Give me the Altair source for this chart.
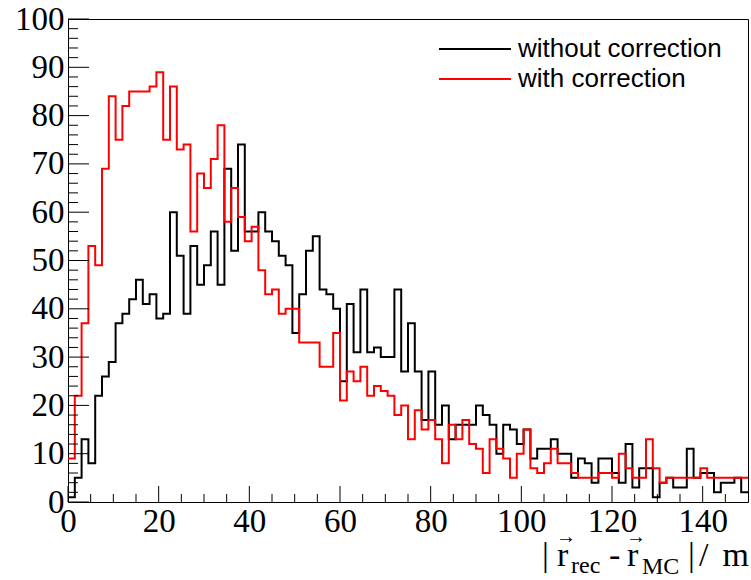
import altair as alt
import pandas as pd

# ---- data ----
bin_width = 1.5
n_bins = 100
series_names = ["without correction", "with correction"]
series_colors = ["#000000", "#ff0000"]

without_corr = [1, 5, 13, 8, 22, 26, 29, 37, 39, 42,
                46, 41, 43, 38, 39, 60, 51, 39, 53, 45,
                49, 56, 45, 69, 52, 74, 56, 56, 60, 56,
                54, 51, 49, 35, 43, 52, 55, 44, 43, 40,
                25, 41, 31, 44, 31, 32, 30, 30, 44, 27,
                37, 27, 17, 27, 16, 20, 13, 16, 16, 16,
                20, 18, 16, 10, 16, 15, 12, 15, 9, 11,
                11, 13, 10, 10, 5, 9, 8, 4, 9, 9,
                6, 4, 12, 3, 7, 7, 1, 4, 5, 3,
                3, 11, 5, 6, 6, 2, 4, 4, 5, 2]

with_corr = [9, 22, 37, 53, 49, 69, 84, 75, 82, 85,
             85, 85, 86, 89, 75, 86, 73, 74, 56, 68,
             65, 71, 78, 58, 65, 59, 54, 57, 48, 43,
             44, 39, 40, 40, 33, 33, 33, 28, 28, 35,
             21, 27, 25, 28, 22, 24, 23, 22, 18, 20,
             13, 19, 15, 17, 13, 8, 16, 13, 17, 12,
             11, 6, 13, 11, 9, 5, 10, 15, 7, 6,
             8, 11, 8, 8, 6, 5, 5, 5, 6, 6,
             5, 10, 7, 5, 5, 13, 7, 4, 5, 5,
             5, 5, 5, 7, 5, 5, 5, 5, 5, 5]

x_major = [0, 20, 40, 60, 80, 100, 120, 140]
x_minor = [v for v in range(5, 150, 5) if v % 20 != 0]
y_major = [0, 10, 20, 30, 40, 50, 60, 70, 80, 90, 100]
y_minor = [v for v in range(2, 100, 2) if v % 10 != 0]

# ---- build step tables ----
def step_table(name, vals):
    rows = [{"series": name, "x": i * bin_width, "count": v} for i, v in enumerate(vals)]
    rows.append({"series": name, "x": n_bins * bin_width, "count": vals[-1]})
    return pd.DataFrame(rows)

W, H = 680, 483
PL, PT = 68, 19

xs = alt.Scale(domain=[0, 150], nice=False, zero=False)
ys = alt.Scale(domain=[0, 100], nice=False, zero=False)

lab = dict(labelFont="Liberation Serif", labelFontSize=33, labelColor="#000000",
           ticks=False, domain=False, grid=False, title=None, format="d")
xaxis = alt.Axis(values=x_major, labelPadding=3, labelFlush=False, **lab)
yaxis = alt.Axis(values=y_major, labelPadding=4, labelFlush=False, **lab)

layers = []
for name, vals, col in zip(series_names, [without_corr, with_corr], series_colors):
    layers.append(
        alt.Chart(step_table(name, vals)).mark_line(
            interpolate="step-after", strokeWidth=2, color=col, clip=True
        ).encode(
            x=alt.X("x:Q", scale=xs, axis=xaxis),
            y=alt.Y("count:Q", scale=ys, axis=yaxis),
        )
    )

# inward ROOT-style ticks
def xtick(vals, length):
    return alt.Chart(pd.DataFrame({"t": vals})).mark_rule(color="#000000", strokeWidth=1).encode(
        x=alt.X("t:Q", scale=xs, axis=xaxis), y=alt.value(H), y2=alt.value(H - length))

def ytick(vals, length):
    return alt.Chart(pd.DataFrame({"t": vals})).mark_rule(color="#000000", strokeWidth=1).encode(
        y=alt.Y("t:Q", scale=ys, axis=yaxis), x=alt.value(0), x2=alt.value(length))

layers += [xtick(x_major, 16), xtick(x_minor, 8), ytick(y_major, 21), ytick(y_minor, 10)]

# legend (manual, ROOT style)
leg_y = [49 - PT, 79 - PT]
for name, col, yy in zip(series_names, series_colors, leg_y):
    layers.append(alt.Chart(pd.DataFrame({"s": [name]})).mark_rule(color=col, strokeWidth=2).encode(
        x=alt.value(439 - PL), x2=alt.value(511 - PL), y=alt.value(yy)))
    layers.append(alt.Chart(pd.DataFrame({"s": [name]})).mark_text(
        align="left", baseline="middle", font="Liberation Sans", fontSize=26, color="#000000"
    ).encode(x=alt.value(518 - PL), y=alt.value(yy), text="s:N"))

# axis title |r_rec - r_MC| / m  (pieces)
def txt(s, x, y, size, align="left"):
    return alt.Chart(pd.DataFrame({"s": [s]})).mark_text(
        align=align, baseline="alphabetic", font="Liberation Serif", fontSize=size, color="#000000"
    ).encode(x=alt.value(x - PL), y=alt.value(y - PT), text="s:N")

layers += [
    txt("|", 542, 566, 34),
    txt("r", 557, 566, 34),
    txt("\u2192", 556, 543, 20),
    txt("rec", 571, 573, 24),
    txt("-", 609, 566, 34),
    txt("r", 627, 566, 34),
    txt("\u2192", 626, 543, 20),
    txt("MC", 642, 574, 24),
    txt("|", 688, 566, 34),
    txt("/", 699, 566, 34),
    txt("m", 749, 566, 34, align="right"),
]

chart = alt.layer(*layers).properties(
    width=W, height=H,
    autosize=alt.AutoSizeParams(type="none"),
    padding={"left": PL, "top": PT, "right": 751 - PL - W, "bottom": 580 - PT - H},
    background="#ffffff",
).configure_view(stroke="#000000", strokeWidth=1)

chart.save("out.html", embed_options={"renderer": "svg", "actions": False})
